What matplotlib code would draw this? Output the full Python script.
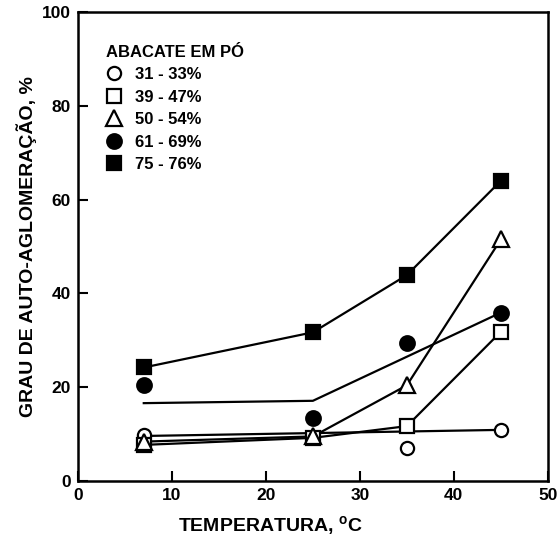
import numpy as np
import matplotlib.pyplot as plt
from matplotlib.lines import Line2D

plt.rcParams['font.family'] = ['Liberation Sans', 'DejaVu Sans']
plt.rcParams['font.weight'] = 'bold'
plt.rcParams['mathtext.fontset'] = 'custom'
plt.rcParams['mathtext.rm'] = 'Liberation Sans:bold'

# temperatures, C
temp = [7, 25, 35, 45]

# measured points
open_circ_x = [7, 35, 45]
open_circ_y = [9.8, 7.0, 10.9]
open_sq_y = [7.7, 9.2, 11.7, 31.8]
tri_y = [8.4, 9.5, 20.4, 51.5]
fill_circ_y = [20.5, 13.4, 29.5, 35.9]
fill_sq_y = [24.2, 31.7, 43.9, 64.0]

# drawn curves
open_circ_fit_x = [7, 45]
open_circ_fit_y = [9.6, 10.9]
fill_circ_fit_x = [7, 25, 45]
fill_circ_fit_y = [16.6, 17.1, 35.9]

labels = ['31 - 33%', '39 - 47%', '50 - 54%', '61 - 69%', '75 - 76%']

fig = plt.figure(figsize=(5.59, 5.44), dpi=100)
ax = fig.add_axes([0.1395, 0.1158, 0.8405, 0.8622])

lw = 1.6
ms = 9.5
mew = 1.6

# lines first
ax.plot(open_circ_fit_x, open_circ_fit_y, 'k-', lw=lw)
ax.plot(temp, open_sq_y, 'k-', lw=lw)
ax.plot(temp, tri_y, 'k-', lw=lw)
ax.plot(fill_circ_fit_x, fill_circ_fit_y, 'k-', lw=lw)
ax.plot(temp, fill_sq_y, 'k-', lw=lw)

# markers
h1, = ax.plot(open_circ_x, open_circ_y, 'o', ms=ms, mfc='white', mec='k', mew=mew, ls='none', label=labels[0])
h2, = ax.plot(temp, open_sq_y, 's', ms=ms, mfc='white', mec='k', mew=mew, ls='none', label=labels[1])
h3, = ax.plot(temp, tri_y, '^', ms=ms + 2, mfc='white', mec='k', mew=mew, ls='none', label=labels[2])
h4, = ax.plot(temp, fill_circ_y, 'o', ms=ms + 1, mfc='k', mec='k', mew=mew, ls='none', label=labels[3])
h5, = ax.plot(temp, fill_sq_y, 's', ms=ms, mfc='k', mec='k', mew=mew, ls='none', label=labels[4])

ax.set_xlim(0, 50)
ax.set_ylim(0, 100)
ax.set_xticks([0, 10, 20, 30, 40, 50])
ax.set_yticks([0, 20, 40, 60, 80, 100])
ax.tick_params(direction='in', length=7, width=1.5, labelsize=12.5, pad=5)
for s in ax.spines.values():
    s.set_linewidth(1.8)

ax.set_xlabel(r'TEMPERATURA, $^{\mathrm{o}}$C', fontsize=14, fontweight='bold')
ax.xaxis.set_label_coords(0.41, -0.097)
ax.xaxis.label.set_va('center')
ax.set_ylabel('GRAU DE AUTO-AGLOMERAÇÃO, %', fontsize=14, fontweight='bold')
ax.yaxis.set_label_coords(-0.11, 0.5)
ax.yaxis.label.set_va('center')

leg = ax.legend(handles=[h1, h2, h3, h4, h5], title='ABACATE EM PÓ', loc='upper left',
                bbox_to_anchor=(0.06, 0.93), frameon=False, fontsize=12,
                title_fontproperties={'weight': 'bold', 'size': 12},
                handlelength=0.9, handletextpad=0.8, labelspacing=0.45,
                borderpad=0, borderaxespad=0, alignment='left')

fig.savefig('out.png', dpi=100)
